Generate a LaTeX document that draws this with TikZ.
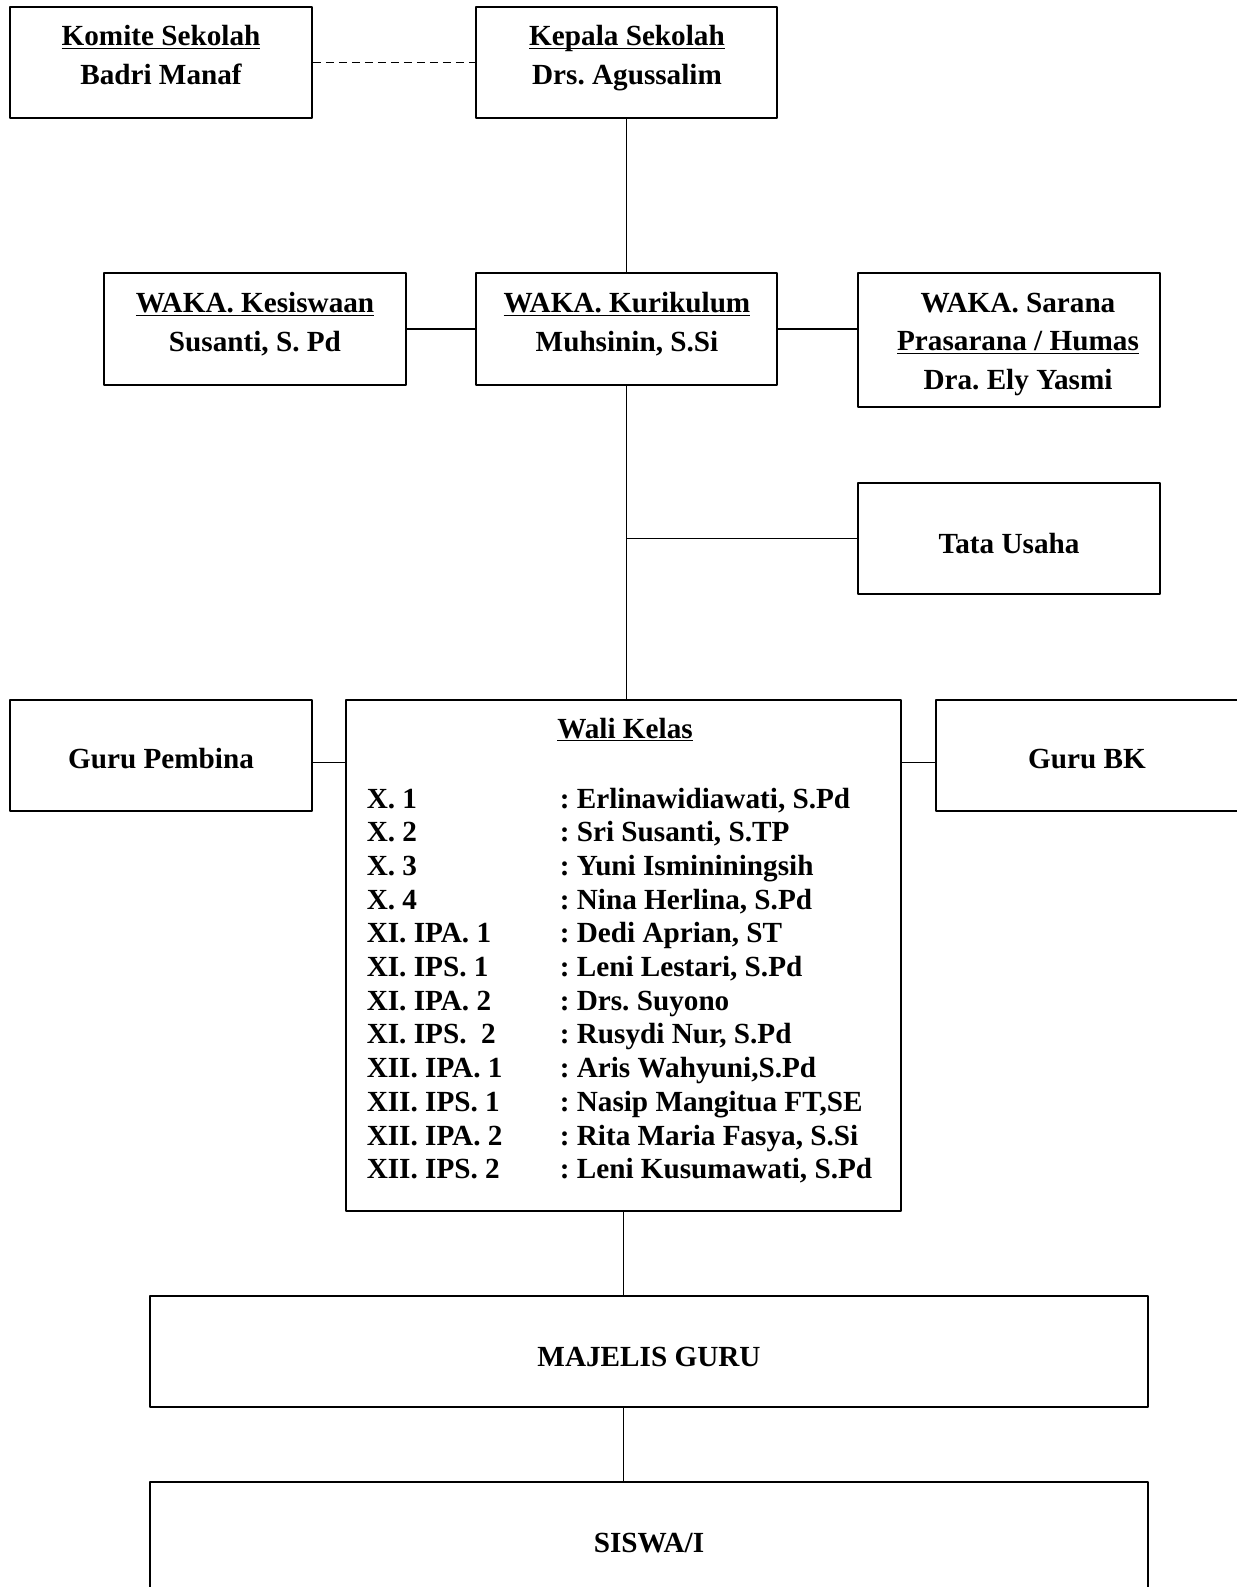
\documentclass[tikz,border=0pt]{standalone}
\usepackage{fontspec}
\setmainfont{Liberation Serif}
\newcommand{\garisbawah}[1]{\underline{\raisebox{0pt}[\height][0pt]{#1}}}
\frenchspacing
\begin{document}
\begin{tikzpicture}[x=0.5pt,y=-0.5pt,line join=round,line width=0.8pt,
	font=\bfseries\fontsize{14.6}{19.25}\selectfont]
	\tikzset{kotak/.style 2 args={draw,inner sep=0pt,minimum width=#1*0.5pt,minimum height=#2*0.5pt},
		teks/.style={inner sep=0pt,align=center}}
	\useasboundingbox (0,0) rectangle (1237,1587);
	% kotak
	\node[kotak={302}{111}] (komite) at (161,62.5) {};
	\node[kotak={301}{111}] (kepala) at (626.5,62.5) {};
	\node[kotak={302}{112}] (kesiswaan) at (255,329) {};
	\node[kotak={301}{112}] (kurikulum) at (626.5,329) {};
	\node[kotak={302}{134}] (sarana) at (1009,340) {};
	\node[kotak={302}{111}] (tatausaha) at (1009,538.5) {};
	\node[kotak={302}{111}] (pembina) at (161,755.5) {};
	\node[kotak={555}{511}] (wali) at (623.5,955.5) {};
	\node[kotak={302}{111}] (gurubk) at (1087,755.5) {};
	\node[kotak={998}{111}] (majelis) at (649,1351.5) {};
	\node[kotak={998}{111}] (siswa) at (649,1537.5) {};
	% teks
	\node[teks,anchor=base] (komiteT) at (161,84) {\garisbawah{Komite Sekolah}\\Badri Manaf};
	\node[teks,anchor=base] (kepalaT) at (627,84) {\garisbawah{Kepala Sekolah}\\Drs. Agussalim};
	\node[teks,anchor=base] (kesiswaanT) at (255,351) {\garisbawah{WAKA. Kesiswaan}\\Susanti, S. Pd};
	\node[teks,anchor=base] (kurikulumT) at (627,351) {\garisbawah{WAKA. Kurikulum}\\Muhsinin, S.Si};
	\node[teks,anchor=base] (saranaT) at (1018,389) {WAKA. Sarana\\\garisbawah{Prasarana / Humas}\\Dra. Ely Yasmi};
	\node[teks] (tatausahaT) at (1009,543.5) {Tata Usaha};
	\node[teks] (pembinaT) at (161,759) {Guru Pembina};
	\node[teks] (gurubkT) at (1087,759) {Guru BK};
	\node[teks] (majelisT) at (649,1356.5) {MAJELIS GURU};
	\node[teks] (siswaT) at (649,1543) {SISWA/I};
	\node[teks,anchor=base] (waliT) at (625,738) {\garisbawah{Wali Kelas}};
	\foreach \kls/\nama [count=\i] in {X. 1/{Erlinawidiawati, S.Pd},X. 2/{Sri Susanti, S.TP},
		X. 3/Yuni Ismininingsih,X. 4/{Nina Herlina, S.Pd},XI. IPA. 1/{Dedi Aprian, ST},
		XI. IPS. 1/{Leni Lestari, S.Pd},XI. IPA. 2/Drs. Suyono,XI. IPS.\ \ 2/{Rusydi Nur, S.Pd},
		XII. IPA. 1/{Aris Wahyuni,S.Pd},XII. IPS. 1/{Nasip Mangitua FT,SE},
		XII. IPA. 2/{Rita Maria Fasya, S.Si},XII. IPS. 2/{Leni Kusumawati, S.Pd}}
	{
		\node[teks,anchor=base west] (kelas\i) at (366,{808+33.7*(\i-1)}) {\kls};
		\node[teks,anchor=base west] (guru\i) at (559,{808+33.7*(\i-1)}) {: \nama};
	}
	% garis
	\draw[dash pattern=on 4pt off 2.5pt] (komite.east) -- (kepala.west);
	\draw (kepala) -- (kurikulum);
	\draw (kesiswaan.east) -- (kurikulum.west);
	\draw (kurikulum.east) -- (kurikulum.east -| sarana.west);
	\draw (kurikulum.south) -- (kurikulum.south |- wali.north);
	\draw (tatausaha.west) -- (tatausaha.west -| kurikulum.south);
	\draw ([yshift=-3.5pt]pembina.east) -- ([yshift=-3.5pt]pembina.east -| wali.west);
	\draw ([yshift=-3.5pt]gurubk.west) -- ([yshift=-3.5pt]gurubk.west -| wali.east);
	\draw (wali.south) -- (wali.south |- majelis.north);
	\draw (wali.south |- majelis.south) -- (wali.south |- siswa.north);
\end{tikzpicture}
\end{document}
